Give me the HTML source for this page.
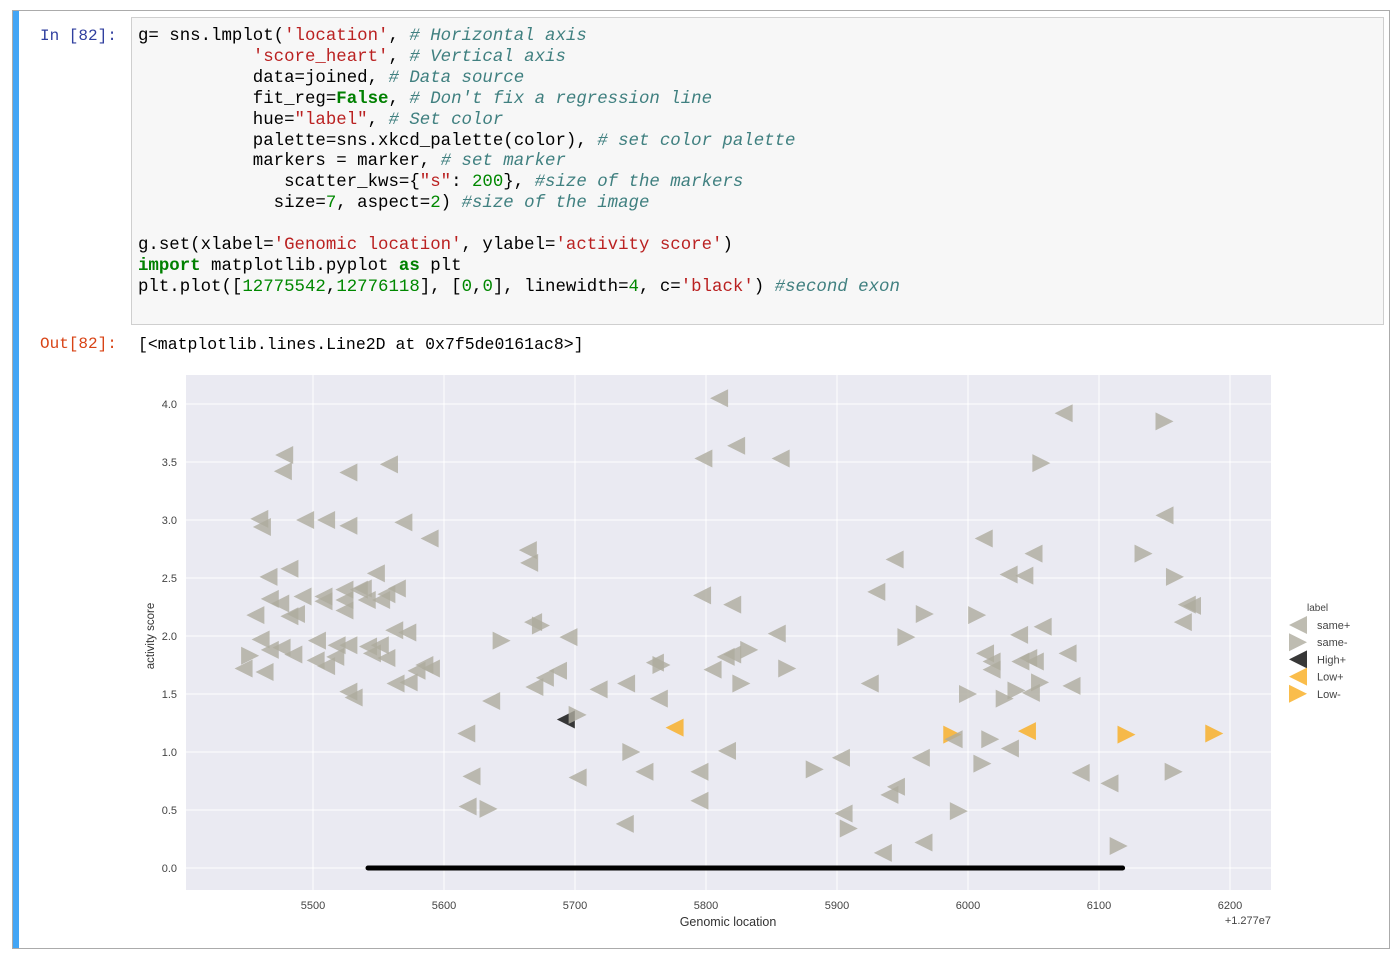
<!DOCTYPE html>
<html><head><meta charset="utf-8"><style>
body{margin:0;width:1400px;height:956px;background:#fff;position:relative;overflow:hidden;font-family:"Liberation Sans",sans-serif}
.cell{position:absolute;left:12px;top:10px;width:1378px;height:939px;border:1px solid #ababab;box-sizing:border-box}
.bar{position:absolute;left:13px;top:11px;width:6px;height:937px;background:#42a5f5}
.prompt{position:absolute;font-family:"Liberation Mono",monospace;font-size:16px}
.input{position:absolute;left:131px;top:17px;width:1253px;height:308px;background:#f7f7f7;border:1px solid #cfcfcf;box-sizing:border-box}
pre{margin:0;position:absolute;left:138px;top:27px;font-family:"Liberation Mono",monospace;font-size:17.4px;line-height:20.9px;color:#000}
.s{color:#ba2121}.c{color:#408080;font-style:italic}.k{color:#008000;font-weight:bold}.n{color:#080}
.out{position:absolute;left:138px;top:335px;font-family:"Liberation Mono",monospace;font-size:16.5px}
</style></head><body>
<div class="cell"></div>
<div class="bar"></div>
<div class="prompt" style="left:40px;top:27px;color:#303f9f">In [82]:</div>
<div class="input"></div>
<pre>g= sns.lmplot(<span class="s">'location'</span>, <span class="c"># Horizontal axis</span>
           <span class="s">'score_heart'</span>, <span class="c"># Vertical axis</span>
           data=joined, <span class="c"># Data source</span>
           fit_reg=<span class="k">False</span>, <span class="c"># Don't fix a regression line</span>
           hue=<span class="s">"label"</span>, <span class="c"># Set color</span>
           palette=sns.xkcd_palette(color), <span class="c"># set color palette</span>
           markers = marker, <span class="c"># set marker</span>
              scatter_kws={<span class="s">"s"</span>: <span class="n">200</span>}, <span class="c">#size of the markers</span>
             size=<span class="n">7</span>, aspect=<span class="n">2</span>) <span class="c">#size of the image</span>

g.set(xlabel=<span class="s">'Genomic location'</span>, ylabel=<span class="s">'activity score'</span>)
<span class="k">import</span> matplotlib.pyplot <span class="k">as</span> plt
plt.plot([<span class="n">12775542</span>,<span class="n">12776118</span>], [<span class="n">0</span>,<span class="n">0</span>], linewidth=<span class="n">4</span>, c=<span class="s">'black'</span>) <span class="c">#second exon</span></pre>
<div class="prompt" style="left:40px;top:335px;color:#d84315">Out[82]:</div>
<div class="out">[&lt;matplotlib.lines.Line2D at 0x7f5de0161ac8&gt;]</div>
<svg id="chart" width="1400" height="956" style="position:absolute;left:0;top:0"></svg>
<script>
const locs=[5478,5477,5459,5461,5494,5510,5527,5527,5558,5569,5589,5466,5482,5548,5467,5475,5492,5508,5508,5524,5524,5535,5538,5541,5552,5556,5564,5524,5487,5482,5456,5460,5467,5476,5485,5452,5447,5463,5503,5518,5527,5542,5545,5551,5556,5562,5572,5502,5510,5517,5563,5573,5579,5585,5590,5527,5531,
5664,5665,5668,5674,5695,5644,5677,5687,5669,5636,5617,5621,5618,5634,5693,5702,5718,5739,5761,5766,5764,5743,5753,5702,5738,5776,5810,5823,5798,5857,5797,5820,5854,5833,5820,5815,5805,5862,5827,5816,5795,5795,5883,5903,5905,5909,
6073,6150,6056,6012,5944,6050,6031,6043,6134,6150,6158,5930,5967,6007,5953,6057,6039,6076,6013,6018,6018,6040,6046,6051,6055,6037,6048,6079,6028,6000,5925,6167,6164,6171,5988,5989,6017,6045,6121,6188,6032,5964,6011,6086,6108,6157,5945,5940,5993,5966,5935,6115];
const scores=[3.56,3.42,3.01,2.94,3.00,3.00,2.95,3.41,3.48,2.98,2.84,2.51,2.58,2.54,2.32,2.28,2.34,2.34,2.30,2.40,2.31,2.40,2.41,2.31,2.31,2.36,2.41,2.22,2.19,2.17,2.18,1.97,1.88,1.90,1.84,1.83,1.72,1.69,1.96,1.92,1.92,1.91,1.85,1.92,1.81,2.05,2.03,1.79,1.74,1.82,1.59,1.60,1.70,1.75,1.72,1.52,1.47,
2.74,2.63,2.12,2.09,1.99,1.96,1.64,1.70,1.56,1.44,1.16,0.79,0.53,0.51,1.28,1.32,1.54,1.59,1.77,1.75,1.46,1.00,0.83,0.78,0.38,1.21,4.05,3.64,3.53,3.53,2.35,2.27,2.02,1.88,1.84,1.82,1.71,1.72,1.59,1.01,0.83,0.58,0.85,0.95,0.47,0.34,
3.92,3.85,3.49,2.84,2.66,2.71,2.53,2.52,2.71,3.04,2.51,2.38,2.19,2.18,1.99,2.08,2.01,1.85,1.85,1.78,1.71,1.78,1.81,1.78,1.60,1.53,1.51,1.57,1.46,1.50,1.59,2.27,2.12,2.26,1.15,1.11,1.11,1.18,1.15,1.16,1.03,0.95,0.90,0.82,0.73,0.83,0.70,0.63,0.49,0.22,0.13,0.19];
const labels=("L L L L L L L L L L L L L L L L L L L L L L L L L L L L L L L L L L L R L L L L L L L L L L L L L L L L L L L L L "+
"L L L R L R L L L L L L L R H R L L L R L R L L L O L L L L L L L R L L L R R L L L R L L R "+
"L R R L L L L L R L R L R R R L L L L L L L L L R R L L R R L L L L P L R Q P P L L R L L R L L R L L R").trim().split(/\s+/);
const classes=["same+","same-","High+","Low+","Low-"];
const xTicks=[5500,5600,5700,5800,5900,6000,6100,6200];
const yTicks=[0.0,0.5,1.0,1.5,2.0,2.5,3.0,3.5,4.0];
const exonX=[5542,6118], exonY=[0,0];
const NS="http://www.w3.org/2000/svg", svg=document.getElementById('chart');
const X=v=>313+(v-5500)*1.31, Y=v=>868-v*116;
function mk(t,a,p){const e=document.createElementNS(NS,t);for(const k in a)e.setAttribute(k,a[k]);(p||svg).appendChild(e);return e;}
const bg=mk('rect',{x:186,y:375,width:1085,height:515,fill:'#eaeaf2'});


xTicks.forEach(t=>{const l=mk('line',{x1:X(t),x2:X(t),y1:375,y2:890,stroke:'#fff','stroke-width':1});


const tx=mk('text',{x:X(t),y:909,'font-size':11,fill:'#444','text-anchor':'middle'});tx.textContent=t;

});
yTicks.forEach(t=>{const l=mk('line',{x1:186,x2:1271,y1:Y(t),y2:Y(t),stroke:'#fff','stroke-width':1});


const tx=mk('text',{x:177,y:Y(t)+4,'font-size':11,fill:'#444','text-anchor':'end'});tx.textContent=t.toFixed(1);

});
const col={L:'#aeab9d',R:'#aeab9d',H:'#222',O:'#f9ad1e',P:'#f9ad1e',Q:'#f9ad1e'};
function tri(x,y,dir,c,p){const s=9;const pts=dir<0?`${x-s},${y} ${x+s},${y-s} ${x+s},${y+s}`:`${x+s},${y} ${x-s},${y-s} ${x-s},${y+s}`;return mk('polygon',{points:pts,fill:c,'fill-opacity':c=='#222'?0.9:0.8},p);}
labels.forEach((lb,i)=>{const dir=(lb=='R'||lb=='P')?1:-1;const t=tri(X(locs[i]),Y(scores[i]),dir,col[lb]);

});
const ex=mk('line',{x1:X(exonX[0]),x2:X(exonX[1]),y1:Y(exonY[0]),y2:Y(exonY[1]),stroke:'#000','stroke-width':5,'stroke-linecap':'round'});


const xl=mk('text',{x:728,y:926,'font-size':12.5,fill:'#333','text-anchor':'middle'});xl.textContent='Genomic location';


const off=mk('text',{x:1271,y:924,'font-size':11,fill:'#444','text-anchor':'end'});off.textContent='+1.277e7';


const yl=mk('text',{x:154,y:636,'font-size':11.5,fill:'#333','text-anchor':'middle',transform:'rotate(-90 154 636)'});yl.textContent='activity score';


const lt=mk('text',{x:1307,y:611,'font-size':10,fill:'#444'});lt.textContent='label';


const lsym=[['L',-1],['R',1],['H',-1],['O',-1],['P',1]];
classes.forEach((c,i)=>{const g=mk('g',{});


const y=625+i*17.2;tri(1298,y,lsym[i][1],col[lsym[i][0]],g);
const t=mk('text',{x:1317,y:y+4,'font-size':11,fill:'#444'},g);t.textContent=c;});
</script>
</body></html>
